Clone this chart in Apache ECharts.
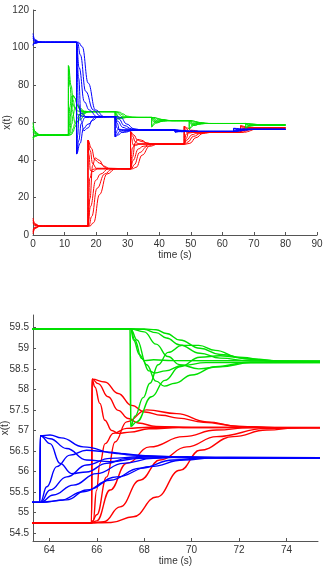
<!DOCTYPE html>
<html>
<head>
<meta charset="utf-8">
<title>x(t)</title>
<script src="https://cdn.jsdelivr.net/npm/echarts@6/dist/echarts.min.js"></script>
<style>html,body{margin:0;padding:0;background:#fff;}</style>
</head>
<body>
<div id="main" style="width:326px;height:576px;"></div>
<script>
var redCurves = [
  [[0,9],[0.6,6],[2,4.96],[4,4.75],[17.4,4.75],[17.42,50.6],[18.5,46.3],[19.6,40.2],[21,38.4],[23.4,35.6],[30.9,35.3],[30.92,55.1],[32,53.25],[33.1,50.6],[34.5,49.8],[36.9,48.6],[47.9,48.5],[47.92,57.9],[49,57],[50.1,55.75],[51.5,55.4],[53.9,54.8],[65.78,54.75],[65.8,58.25],[66.34,58.18],[66.9,57.9],[67.47,57.61],[68.03,57.45],[68.73,57.37],[69.43,57.3],[70.5,57.2],[72,57.1],[73.5,57.07],[80,57.07]],
  [[0,0.5],[0.6,3.5],[2,4.54],[4,4.75],[17.4,4.75],[17.42,50.6],[18.1,45.1],[18.9,38.05],[20.1,35.6],[30.9,35.3],[30.92,55.1],[31.6,52.7],[32.4,49.7],[33.6,48.6],[47.9,48.5],[47.92,57.9],[48.6,56.75],[49.4,55.3],[50.6,54.8],[65.78,54.75],[65.8,58.25],[66.06,58.14],[66.48,57.82],[66.9,57.49],[67.33,57.29],[67.75,57.18],[68.5,57.1],[70,57.07],[80,57.07]],
  [[0,7],[0.6,5.4],[2,4.86],[4,4.75],[17.4,4.75],[17.42,50.6],[17.73,42.9],[18.2,34.4],[19,33.8],[20.4,35.3],[30.9,35.3],[30.92,55.1],[31.23,51.8],[31.7,48.1],[32.5,47.8],[33.9,48.5],[47.9,48.5],[47.92,57.9],[48.23,56.3],[48.7,54.6],[49.5,54.4],[50.9,54.75],[65.78,54.75],[65.8,58.25],[65.92,58.06],[66.13,57.66],[66.34,57.25],[66.63,57],[66.9,56.93],[67.4,56.96],[68.2,57.04],[69.5,57.07],[80,57.07]],
  [[0,2],[0.6,3.9],[2,4.61],[4,4.75],[17.4,4.75],[18.05,19.4],[18.9,37.1],[19.7,41.1],[21,39.9],[22.4,36.8],[24.4,35.3],[30.9,35.3],[31.55,41.6],[32.4,49.3],[33.2,51],[34.5,50.5],[35.9,49.2],[37.9,48.5],[47.9,48.5],[48.55,51.5],[49.4,55.1],[50.2,55.9],[51.5,55.7],[52.9,55.1],[54.9,54.75],[65.78,54.75],[66,54.95],[66.42,55.87],[66.77,56.72],[67.26,57.21],[68.1,57.5],[69.37,57.41],[70.63,57.21],[72,57.1],[73.5,57.07],[80,57.07]],
  [[0,6],[0.6,5.1],[2,4.81],[4,4.75],[17.4,4.75],[17.6,15.1],[17.95,30.1],[18.9,35],[20,35.3],[30.9,35.3],[31.1,39.8],[31.45,46.3],[32.4,48.4],[33.5,48.5],[47.9,48.5],[48.1,50.6],[48.45,53.7],[49.4,54.7],[50.5,54.75],[65.78,54.75],[65.85,54.81],[65.99,55.54],[66.13,56.2],[66.35,56.68],[66.7,56.93],[67.26,57.05],[68.24,57.08],[80,57.07]],
  [[0,3],[0.6,4.2],[2,4.66],[4,4.75],[17.4,4.75],[18.2,15.1],[19.9,29.2],[21.4,32.5],[23.9,35.3],[30.9,35.3],[31.7,39.8],[33.4,45.9],[34.9,47.3],[37.4,48.5],[47.9,48.5],[48.7,50.6],[50.4,53.5],[51.9,54.2],[54.4,54.75],[65.78,54.75],[66,54.8],[66.56,55.55],[67.26,56.2],[68.24,56.6],[69.65,56.85],[71.05,57.01],[72.46,57.07],[80,57.07]],
  [[0,8],[0.6,5.7],[2,4.91],[4,4.75],[17.7,4.75],[18.6,9.9],[20.3,24.9],[22.7,32.5],[24.9,35],[26,35.3],[31.2,35.3],[32.1,37.5],[33.8,44],[36.2,47.3],[38.4,48.4],[39.5,48.5],[48.2,48.5],[49.1,49.6],[50.8,52.6],[53.2,54.2],[55.4,54.7],[56.5,54.75],[65.78,54.75],[66.3,54.78],[66.98,55.14],[67.82,55.79],[68.66,56.28],[69.79,56.6],[71.05,56.85],[73.16,57.05],[75,57.07],[80,57.07]],
  [[0,1.5],[0.6,3.8],[2,4.59],[4,4.75],[18,4.75],[19.2,6.6],[21.1,21.6],[23.4,32.5],[26.2,35.3],[31.5,35.3],[32.7,36.1],[34.6,42.6],[36.9,47.3],[39.7,48.5],[48.5,48.5],[49.7,48.9],[51.6,51.9],[53.9,54.2],[56.7,54.75],[65.78,54.75],[66.6,54.76],[67.54,54.9],[68.52,55.38],[69.51,56.03],[70.35,56.52],[71.75,56.85],[73.16,57.01],[74.56,57.07],[80,57.07]]
];

var greenCurves = [
  [[0,60],[0.6,55.3],[2,53.6],[3,53.3],[11.2,53.3],[11.22,90.3],[11.73,79.4],[12.36,66.9],[13.4,59.55],[14.8,61.4],[17.2,65.8],[26,65.8],[26.02,61.5],[26.6,61.9],[27.3,62.5],[28.5,62.9],[30,62.75],[32,62.7],[37.6,62.7],[37.62,57.7],[38.13,59.15],[38.76,60.85],[39.8,61.85],[41.2,61.6],[43.6,61],[49.5,61],[49.52,56.5],[50.03,57.8],[50.66,59.33],[51.7,60.25],[53.1,60],[55.5,59.47],[67.41,59.47],[67.43,57.1],[67.61,57.35],[67.96,57.8],[68.24,58.15],[68.59,58.6],[69.01,58.9],[69.6,59.07],[70.3,59.07],[71,58.95],[72,58.78],[73.5,58.68],[80,58.67]],
  [[0,51],[0.6,52.6],[2,53.2],[3,53.3],[11.2,53.3],[11.22,90.3],[12.1,79.6],[12.7,72.05],[13.3,67.7],[14.2,64.05],[16.2,65.2],[18.2,65.8],[26,65.8],[26.02,61.5],[26.9,62],[28,62.5],[29.5,62.75],[33,62.7],[37.6,62.7],[37.62,57.7],[38.5,59.1],[39.1,60.15],[39.7,60.75],[40.6,61.25],[42.6,61.1],[44.6,61],[49.5,61],[49.52,56.5],[50.4,57.8],[51,58.7],[51.6,59.25],[52.5,59.7],[54.5,59.55],[56.5,59.47],[67.41,59.47],[67.43,57.1],[67.68,57.21],[68.31,57.82],[68.87,58.22],[69.5,58.55],[70.35,58.78],[71.2,58.82],[72.5,58.74],[74,58.68],[80,58.67]],
  [[0,58],[0.6,54.7],[2,53.5],[3,53.3],[11.2,53.3],[11.38,61.4],[11.66,68.2],[12.2,73.9],[12.7,74.4],[13.3,72.8],[14.1,68.8],[15,66.55],[16.2,65.8],[26,65.8],[26.2,64],[26.6,62.4],[27.2,62],[28.2,62.4],[29.5,62.7],[37.6,62.7],[37.78,61.6],[38.06,60.7],[38.6,59.9],[39.1,59.8],[39.7,60],[40.5,60.6],[41.4,60.9],[42.6,61],[49.5,61],[49.68,60],[49.96,59.2],[50.5,58.5],[51,58.4],[51.6,58.6],[52.4,59.1],[53.3,59.4],[54.5,59.47],[67.43,59.47],[67.7,59.2],[68.1,58.6],[68.5,58.2],[68.85,58.08],[69.3,58.15],[70,58.35],[71,58.55],[72.3,58.65],[80,58.67]],
  [[0,52],[0.6,52.9],[2,53.24],[3,53.3],[11.2,53.3],[11.77,56.8],[12.27,66.9],[12.71,74.4],[13.27,73.2],[14.12,69.3],[14.97,66.9],[16.2,65.8],[26,65.8],[26.5,64.5],[27.1,62.8],[27.7,62.2],[28.5,62.45],[30,62.7],[37.6,62.7],[38.17,62.2],[38.67,60.85],[39.11,59.8],[39.67,59.9],[40.52,60.5],[41.37,60.85],[42.6,61],[49.5,61],[50.07,60.57],[50.57,59.33],[51.01,58.4],[51.57,58.55],[52.42,59.05],[53.27,59.33],[54.5,59.47],[67.43,59.47],[67.6,59.2],[67.9,58.75],[68.2,58.45],[68.45,58.4],[68.9,58.45],[69.6,58.58],[70.6,58.65],[80,58.67]],
  [[0,56.5],[0.6,54.26],[2,53.46],[3,53.3],[11.2,53.3],[11.5,57.55],[11.77,63.05],[12.27,69.2],[12.71,69.7],[13.27,67.7],[14.12,66.2],[15.2,65.8],[26,65.8],[26.3,64.8],[26.8,63.3],[27.4,62.6],[28.5,62.65],[30,62.7],[37.6,62.7],[37.9,62.1],[38.17,61.35],[38.67,60.55],[39.11,60.5],[39.67,60.75],[40.52,60.95],[41.6,61],[49.5,61],[49.8,60.5],[50.07,59.8],[50.57,59.05],[51.01,59],[51.57,59.25],[52.42,59.42],[53.5,59.47],[67.43,59.47],[67.55,59.2],[67.8,58.85],[68,58.7],[68.4,58.72],[69.2,58.7],[80,58.67]],
  [[0,51.8],[0.6,52.85],[2,53.2],[3,53.3],[11.2,53.3],[11.77,54.4],[12.27,59.05],[12.71,63.8],[13.27,67.7],[14.12,69.2],[14.97,67.7],[16.27,66.05],[17.7,65.8],[26,65.8],[26.6,65.4],[27.3,64.3],[28.1,63.2],[29,62.75],[31,62.7],[37.6,62.7],[38.17,62.55],[38.67,61.9],[39.11,61.25],[39.67,60.75],[40.52,60.55],[41.37,60.75],[42.67,60.95],[44.1,61],[49.5,61],[50.07,60.86],[50.57,60.3],[51.01,59.7],[51.57,59.25],[52.42,59.05],[53.27,59.25],[54.57,59.44],[56,59.47],[67.43,59.47],[68,59.4],[68.5,59.1],[69,58.8],[69.5,58.6],[70.3,58.5],[71.2,58.55],[72.5,58.65],[80,58.67]],
  [[0,55],[0.6,53.8],[2,53.4],[3,53.3],[11.2,53.3],[11.77,53.4],[12.27,54.7],[12.71,56.8],[13.27,59.4],[14.12,62.55],[14.97,64.4],[16.27,65.55],[17.7,65.8],[26,65.8],[27,65.5],[28,64.3],[29,63.3],[30.5,62.85],[32.5,62.7],[37.6,62.7],[38.67,62.5],[39.11,62.2],[39.67,61.85],[40.52,61.45],[41.37,61.2],[42.67,61.05],[44.1,61],[49.5,61],[50.57,60.83],[51.01,60.57],[51.57,60.25],[52.42,59.87],[53.27,59.64],[54.57,59.5],[56,59.47],[67.43,59.47],[68,59.46],[68.5,59.38],[68.94,59.25],[69.5,59.08],[70.35,58.88],[71.2,58.76],[72.5,58.69],[80,58.67]],
  [[0,52.5],[0.6,53.06],[2,53.26],[3,53.3],[11.2,53.3],[11.7,53.3],[12.27,53.7],[12.71,55.05],[13.27,57.55],[14.12,60.7],[14.97,63.05],[16.27,64.9],[17.7,65.7],[19.2,65.8],[26,65.8],[27.5,65.5],[28.5,64.6],[29.8,63.4],[31.5,62.85],[34,62.7],[37.6,62.7],[38.67,62.65],[39.11,62.45],[39.67,62.1],[40.52,61.7],[41.37,61.35],[42.67,61.1],[44.1,61],[49.5,61],[50.57,60.95],[51.01,60.8],[51.57,60.5],[52.42,60.1],[53.27,59.8],[54.57,59.58],[56,59.48],[57.5,59.47],[67.43,59.47],[68,59.47],[68.5,59.45],[68.94,59.36],[69.5,59.2],[70.35,59],[71.2,58.85],[72.5,58.73],[74,58.68],[80,58.67]]
];

var blueCurves = [
  [[0,107.5],[0.6,104.2],[2,103],[4,102.8],[13.8,102.8],[13.82,43.25],[14.9,48.8],[16,56.7],[17.4,59.1],[19.8,62.7],[26,63.1],[26.02,52.45],[27.1,53.4],[28.2,54.9],[29.6,55.3],[32,55.9],[45,56],[45.02,54.9],[46.5,55.1],[49,55.25],[63.6,55.25],[63.62,56.87],[64.03,56.89],[64.5,56.82],[65.43,56.6],[66.84,56.44],[68.24,56.38],[69.65,56.35],[71.5,56.33],[80,56.33]],
  [[0,101],[0.6,102.26],[2,102.7],[4,102.8],[13.8,102.8],[13.82,43.25],[14.5,50.4],[15.3,59.5],[16.5,62.7],[26,63.1],[26.02,52.45],[26.7,53.7],[27.5,55.4],[28.7,55.9],[45,56],[45.02,54.9],[46,55.2],[47,55.25],[63.6,55.25],[63.62,56.87],[64.03,56.68],[64.45,56.2],[64.94,55.95],[65.57,55.99],[66.42,56.2],[67.26,56.32],[68.24,56.36],[69.5,56.34],[80,56.33]],
  [[0,106],[0.6,103.8],[2,102.96],[4,102.8],[13.8,102.8],[13.82,43.25],[14.13,53.2],[14.6,64.3],[15.4,65.1],[16.8,63.1],[26,63.1],[26.02,52.45],[26.33,54.2],[26.8,56.2],[27.6,56.35],[29,56],[45,56],[45.02,54.9],[45.5,55.25],[63.6,55.25],[63.62,56.87],[64.03,56.8],[64.73,56.56],[65.57,56.28],[66.56,56.24],[67.82,56.32],[69.22,56.35],[80,56.33]],
  [[0,101.8],[0.6,102.5],[2,102.75],[4,102.8],[13.8,102.8],[14.45,83.7],[15.3,60.7],[16.1,55.6],[17.4,57.1],[18.8,61.1],[20.8,63.1],[26,63.1],[26.65,59.7],[27.5,55.55],[28.3,54.65],[29.6,54.9],[31,55.65],[33,56],[45,56],[45.7,55.6],[47,55.1],[49,55.25],[63.62,55.25],[63.89,55.63],[64.31,56.12],[64.87,56.4],[65.57,56.52],[66.42,56.48],[67.54,56.4],[68.94,56.36],[70.5,56.33],[80,56.33]],
  [[0,105],[0.6,103.5],[2,102.9],[4,102.8],[13.8,102.8],[14,89.3],[14.35,69.8],[15.3,63.5],[16.4,63.1],[26,63.1],[26.2,60.7],[26.55,57.2],[27.5,56.1],[28.6,56],[45,56],[45.4,55.4],[46.5,55.25],[63.62,55.25],[64.03,55.55],[64.73,55.87],[65.57,56.16],[66.56,56.32],[67.82,56.36],[69.5,56.34],[80,56.33]],
  [[0,102],[0.6,102.56],[2,102.76],[4,102.8],[13.8,102.8],[14.6,89.3],[16.3,71],[17.8,66.7],[20.3,63.1],[26,63.1],[26.8,60.7],[28.5,57.4],[30,56.6],[32.5,56],[45,56],[46,55.7],[48,55.3],[50,55.25],[63.62,55.25],[64.17,55.43],[65.01,55.67],[65.99,55.95],[67.12,56.2],[68.38,56.32],[69.79,56.36],[71,56.34],[80,56.33]],
  [[0,104],[0.6,103.2],[2,102.86],[4,102.8],[14.1,102.8],[15,96.1],[16.7,76.6],[19.1,66.7],[21.3,63.5],[22.4,63.1],[26.3,63.1],[27.2,61.9],[28.9,58.4],[31.3,56.6],[33.5,56.1],[34.6,56],[45.3,56],[47,55.6],[49.5,55.3],[51,55.25],[63.62,55.25],[64,55.27],[64.45,55.3],[65.43,55.51],[66.56,55.79],[67.82,56.08],[69.22,56.28],[70.63,56.34],[80,56.33]],
  [[0,101.5],[0.6,102.4],[2,102.74],[4,102.8],[14.4,102.8],[15.6,100.4],[17.5,81],[19.8,66.7],[22.6,63.1],[26.6,63.1],[27.8,62.7],[29.7,59.2],[32,56.6],[34.8,56],[45.6,56],[47.5,55.8],[50,55.35],[53,55.25],[63.62,55.25],[64.73,55.31],[65.57,55.55],[66.84,55.87],[68.24,56.12],[69.65,56.28],[71.05,56.34],[80,56.33]]
];

// tick labels of the zoomed panel
var zoomXTicks = [64, 66, 68, 70, 72, 74];
var zoomYTicks = [54.5, 55, 55.5, 56, 56.5, 57, 57.5, 58, 58.5, 59, 59.5];

var myChart = echarts.init(document.getElementById('main'));

var font = 'Liberation Sans, Arial, sans-serif';
var axisColor = '#555';
var textColor = '#333';

function baseAxis(extra) {
    var ax = {
        type: 'value',
        nameLocation: 'middle',
        nameTextStyle: { color: textColor, fontSize: 10, fontFamily: font },
        axisLine: { show: true, lineStyle: { color: axisColor, width: 1 } },
        axisTick: { show: true, inside: true, length: 3, lineStyle: { color: axisColor } },
        axisLabel: { color: textColor, fontSize: 10, fontFamily: font, margin: 4 },
        splitLine: { show: false }
    };
    for (var k in extra) {
        if (typeof extra[k] === 'object' && ax[k] && !Array.isArray(extra[k])) {
            ax[k] = Object.assign({}, ax[k], extra[k]);
        } else {
            ax[k] = extra[k];
        }
    }
    return ax;
}

var colors = { red: '#ff0000', green: '#00e000', blue: '#0000ff' };
var series = [];
function addCurves(curves, color) {
    curves.forEach(function (c) {
        series.push({ type: 'line', xAxisIndex: 0, yAxisIndex: 0, data: c, showSymbol: false,
            smooth: 0.45, smoothMonotone: 'x', lineStyle: { color: color, width: 1 }, silent: true });
        series.push({ type: 'line', xAxisIndex: 1, yAxisIndex: 1, data: c, showSymbol: false,
            smooth: 0.45, smoothMonotone: 'x', clip: true, lineStyle: { color: color, width: 1.4 }, silent: true });
    });
}
addCurves(redCurves, colors.red);
addCurves(greenCurves, colors.green);
addCurves(blueCurves, colors.blue);

myChart.setOption({
    animation: false,
    grid: [
        { left: 33, top: 10, width: 284, height: 225, containLabel: false, outerBoundsMode: 'none' },
        { left: 33, top: 315, width: 285, height: 226, containLabel: false, outerBoundsMode: 'none' }
    ],
    xAxis: [
        baseAxis({ gridIndex: 0, min: 0, max: 90, interval: 10, name: 'time (s)', nameGap: 15 }),
        baseAxis({ gridIndex: 1, min: 63.31, max: 75.33, name: 'time (s)', nameGap: 13,
            axisLabel: { customValues: zoomXTicks }, axisTick: { customValues: zoomXTicks } })
    ],
    yAxis: [
        baseAxis({ gridIndex: 0, min: 0, max: 120, interval: 20, name: 'x(t)', nameGap: 21, nameMoveOverlap: false }),
        baseAxis({ gridIndex: 1, min: 54.31, max: 59.81, name: 'x(t)', nameGap: 23, nameMoveOverlap: false,
            axisLabel: { customValues: zoomYTicks }, axisTick: { customValues: zoomYTicks } })
    ],
    series: series
});
</script>
</body>
</html>
